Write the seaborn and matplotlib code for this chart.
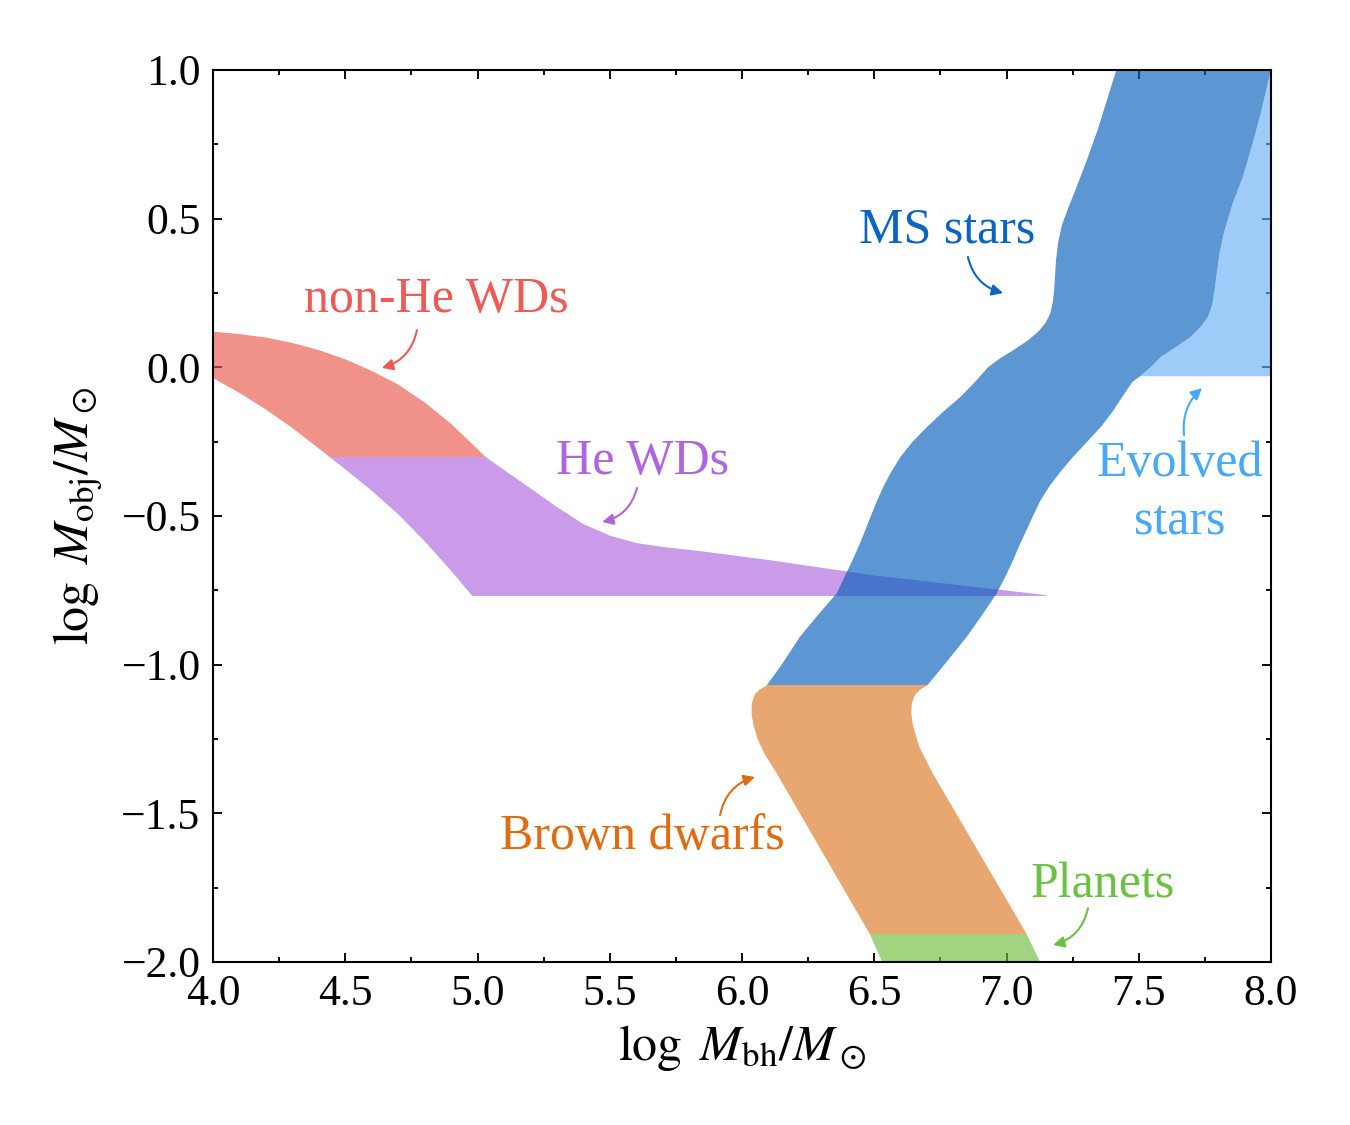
import numpy as np
import matplotlib
matplotlib.use("Agg")
import matplotlib.pyplot as plt
import seaborn as sns
from matplotlib.patches import Rectangle
from matplotlib.ticker import MultipleLocator

# ---------------- data ----------------
# White-dwarf band (upper and lower edges), split at log(0.5)
wd_upper_x = [4.00, 4.10, 4.20, 4.30, 4.40, 4.50, 4.60, 4.70, 4.80, 4.90, 5.00, 5.03, 5.10, 5.20,
              5.30, 5.40, 5.50, 5.60, 5.70, 5.84, 6.10, 6.50, 7.15]
wd_upper_y = [0.120, 0.112, 0.100, 0.082, 0.058, 0.027, -0.012, -0.058, -0.118, -0.190, -0.275,
              -0.301, -0.345, -0.407, -0.470, -0.527, -0.566, -0.591, -0.604, -0.618, -0.648,
              -0.700, -0.766]
wd_lower_x = [4.00, 4.10, 4.20, 4.30, 4.40, 4.44, 4.50, 4.60, 4.70, 4.80, 4.90, 4.98, 7.15]
wd_lower_y = [-0.036, -0.086, -0.142, -0.204, -0.273, -0.301, -0.343, -0.415, -0.494, -0.585,
              -0.684, -0.769, -0.769]
he_split = -0.301

# Stellar/substellar band: left and right edges as functions of log M_obj
band_left_y = [-2.0, -1.906, -1.364, -1.30, -1.253, -1.20, -1.163, -1.13, -1.10, -1.085, -1.07,
               -1.00, -0.906, -0.83, -0.76, -0.70, -0.648, -0.60, -0.55, -0.50, -0.45, -0.40,
               -0.35, -0.30, -0.25, -0.20, -0.15, -0.10, -0.05, 0.00, 0.03, 0.06, 0.09, 0.12,
               0.15, 0.18, 0.22, 0.26, 0.30, 0.36, 0.42, 0.48, 0.54, 0.60, 0.70, 0.80, 0.90, 1.00]
band_left_x = [6.53, 6.483, 6.13, 6.085, 6.06, 6.042, 6.036, 6.037, 6.048, 6.065, 6.093,
               6.150, 6.219, 6.290, 6.358, 6.390, 6.418, 6.442, 6.465, 6.487, 6.510, 6.535,
               6.565, 6.600, 6.645, 6.700, 6.760, 6.825, 6.880, 6.930, 6.975, 7.030, 7.080, 7.120,
               7.148, 7.165, 7.175, 7.180, 7.183, 7.187, 7.195, 7.210, 7.235, 7.262, 7.305, 7.345,
               7.380, 7.415]
band_right_y = [-2.0, -1.906, -1.364, -1.276, -1.20, -1.163, -1.13, -1.10, -1.085, -1.07,
                -1.00, -0.906, -0.83, -0.76, -0.70, -0.648, -0.60, -0.547, -0.50, -0.45, -0.40,
                -0.35, -0.30, -0.25, -0.20, -0.15, -0.10, -0.05, -0.03, 0.00, 0.036, 0.07, 0.105,
                0.137, 0.17, 0.21, 0.26, 0.317, 0.38, 0.452, 0.55, 0.641, 0.75, 0.85, 1.00]
band_right_x = [7.127, 7.076, 6.72, 6.67, 6.645, 6.64, 6.642, 6.655, 6.672, 6.70,
                6.765, 6.85, 6.91, 6.963, 6.998, 7.025, 7.048, 7.076, 7.100, 7.127, 7.162,
                7.205, 7.253, 7.305, 7.357, 7.400, 7.437, 7.475, 7.505, 7.545, 7.585, 7.645, 7.700,
                7.735, 7.762, 7.778, 7.787, 7.795, 7.805, 7.822, 7.855, 7.894, 7.930, 7.960, 8.000]
ms_min = -1.07        # MS / brown-dwarf boundary
bd_min = -1.906       # brown-dwarf / planet boundary
evolved_min = -0.03   # lower limit of evolved stars

# Labels
labels = ["non-He WDs", "He WDs", "MS stars", "Evolved\nstars", "Brown dwarfs", "Planets"]
label_x = [4.843, 5.622, 6.775, 7.656, 5.622, 7.365]
label_y = [0.226, -0.318, 0.462, -0.423, -1.580, -1.741]
arrow_from_x = [4.771, 5.603, 6.854, 7.671, 5.917, 7.308]
arrow_from_y = [0.125, -0.406, 0.371, -0.228, -1.506, -1.819]
arrow_to_x = [4.638, 5.471, 6.987, 7.739, 6.049, 7.176]
arrow_to_y = [-0.002, -0.520, 0.250, -0.070, -1.378, -1.943]
arrow_rad = [-0.3, -0.3, 0.3, -0.25, -0.3, -0.3]
colors = ["#ee5a55", "#b065e0", "#0a64c4", "#4aa8f8", "#e06c12", "#6cc044"]
fill_colors = ["#e8574b", "#ac65dc", "#0560bc", "#6aaff3", "#dc7623", "#6dbd3c"]

xticks = [4.0, 4.5, 5.0, 5.5, 6.0, 6.5, 7.0, 7.5, 8.0]
yticks = [-2.0, -1.5, -1.0, -0.5, 0.0, 0.5, 1.0]

# ---------------- style ----------------
sns.set_theme(style="ticks")
plt.rcParams['font.family'] = ['Liberation Serif', 'DejaVu Serif']
plt.rcParams['mathtext.fontset'] = 'stix'
plt.rcParams['axes.unicode_minus'] = True
for k in ['text.color', 'axes.labelcolor', 'xtick.color', 'ytick.color',
          'xtick.labelcolor', 'ytick.labelcolor']:
    plt.rcParams[k] = 'black'

fig = plt.figure(figsize=(9, 7.5), dpi=150)
ax = fig.add_axes([0.1578, 0.1449, 0.7837, 0.7929])
ax.set_facecolor('white')

alpha = 0.65


def clipped_fill(xs, ys, color, ylo, yhi, z):
    polys = ax.fill(xs, ys, color=color, alpha=alpha, lw=0, zorder=z)
    rect = Rectangle((3.0, ylo), 6.0, yhi - ylo, transform=ax.transData)
    for p in polys:
        p.set_clip_path(rect)
    return polys


# white dwarf band
wd_x = list(wd_upper_x) + list(wd_lower_x[::-1])
wd_y = list(wd_upper_y) + list(wd_lower_y[::-1])
clipped_fill(wd_x, wd_y, fill_colors[0], he_split, 2.0, 1)
clipped_fill(wd_x, wd_y, fill_colors[1], -3.0, he_split, 1)

# stellar band
band_x = list(band_left_x) + list(band_right_x[::-1])
band_y = list(band_left_y) + list(band_right_y[::-1])
clipped_fill(band_x, band_y, fill_colors[2], ms_min, 2.0, 2)
clipped_fill(band_x, band_y, fill_colors[4], bd_min, ms_min, 2)
clipped_fill(band_x, band_y, fill_colors[5], -3.0, bd_min, 2)

# evolved stars: between MS right edge and x = 8
ev_x = [x for x, y in zip(band_right_x, band_right_y) if y >= evolved_min] + [8.0]
ev_y = [y for y in band_right_y if y >= evolved_min] + [evolved_min]
ax.fill(ev_x, ev_y, color=fill_colors[3], alpha=alpha, lw=0, zorder=2)

# labels and arrows
for i, lab in enumerate(labels):
    ax.text(label_x[i], label_y[i], lab, color=colors[i], fontsize=24,
            ha='center', va='center', linespacing=1.35, zorder=5)
    ax.annotate('', xy=(arrow_to_x[i], arrow_to_y[i]),
                xytext=(arrow_from_x[i], arrow_from_y[i]),
                arrowprops=dict(arrowstyle='-|>', color=colors[i], lw=1.0,
                                mutation_scale=11, shrinkA=0, shrinkB=0,
                                connectionstyle=f'arc3,rad={arrow_rad[i]}'),
                zorder=5)

ax.set_xlim(4.0, 8.0)
ax.set_ylim(-2.0, 1.0)
ax.set_xticks(xticks)
ax.set_yticks(yticks)
ax.set_xticklabels([f"{t:.1f}" for t in xticks])
ax.set_yticklabels([f"{t:.1f}".replace('-', '\u2212') for t in yticks])
ax.xaxis.set_minor_locator(MultipleLocator(0.25))
ax.yaxis.set_minor_locator(MultipleLocator(0.25))
ax.tick_params(which='both', direction='in', top=True, right=True,
               color='black', width=0.9)
ax.tick_params(which='major', length=4.5, labelsize=21, pad=6, labelcolor='black')
ax.tick_params(which='minor', length=2.2)
for s in ax.spines.values():
    s.set_color('black')
    s.set_linewidth(1.0)

ax.set_xlabel(r'$\log\ M_{\rm bh}/M_\odot$', fontsize=24, labelpad=4, color='black')
ax.set_ylabel(r'$\log\ M_{\rm obj}/M_\odot$', fontsize=24, labelpad=8, color='black')

fig.savefig('out.png', dpi=150, facecolor='white')
